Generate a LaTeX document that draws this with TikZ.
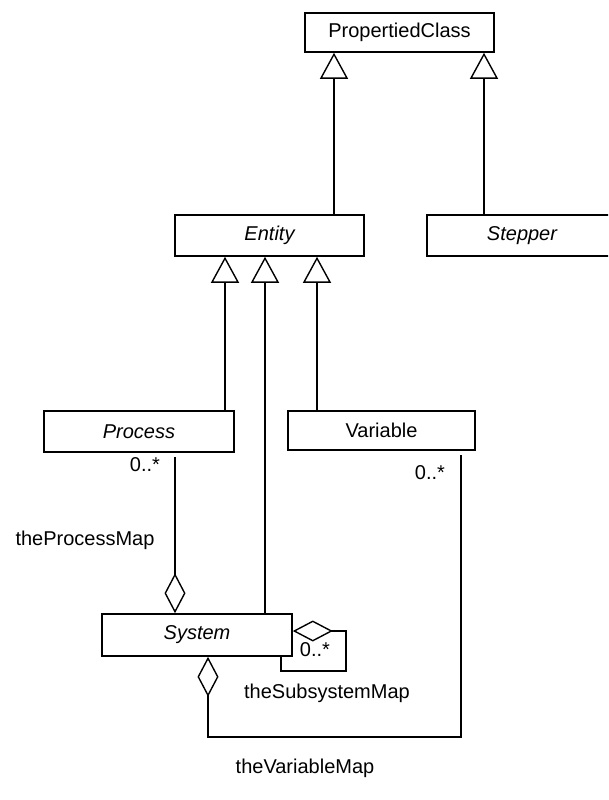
\documentclass[tikz,border=0pt]{standalone}
\usepackage{fontspec}
\setmainfont{Liberation Sans}
\usetikzlibrary{arrows.meta,calc}
\begin{document}
\begin{tikzpicture}[x=1pt,y=-1pt,
  cls/.style={draw, line width=1.6pt, minimum height=40pt, inner sep=0pt, font=\fontsize{20}{24}\selectfont},
  lbl/.style={inner sep=0pt, font=\fontsize{20}{24}\selectfont},
  gen/.style={line width=1.4pt, -{Triangle[open, length=26pt, width=28pt, line width=1.4pt]}},
  agg/.style={line width=1.4pt, -{Diamond[open, length=40pt, width=21pt, line width=1.4pt]}}]
\useasboundingbox (0,0) rectangle (608,800);
\clip (0,0) rectangle (608,800);
\node[cls, minimum width=189pt, minimum height=39pt] (pc) at (399.5,32.5) {PropertiedClass};
\node[cls, minimum width=189pt, minimum height=41pt] (entity) at (269.5,235.5) {\itshape Entity};
\node[cls, minimum width=190pt, minimum height=41pt] (stepper) at (522,235.5) {\itshape Stepper};
\node[cls, minimum width=190pt, minimum height=41pt] (process) at (139,431.5) {\itshape Process};
\node[cls, minimum width=187pt, minimum height=39pt] (variable) at (381.5,430.5) {Variable};
\node[cls, minimum width=190pt, minimum height=42pt] (system) at (197,635) {\itshape System};
\coordinate (xa) at (334,0);
\coordinate (xb) at (484,0);
\coordinate (xc) at (225,0);
\coordinate (xd) at (265,0);
\coordinate (xe) at (317,0);
\coordinate (xf) at (175,0);
\coordinate (loopa) at (346,671);
\coordinate (loopb) at (346,631);
\coordinate (loopc) at (281,671);
\coordinate (vmr) at (461,737);
\coordinate (vml) at (208,737);
\draw[gen] (entity.north -| xa) -- (pc.south -| xa);
\draw[gen] (stepper.north -| xb) -- (pc.south -| xb);
\draw[gen] (process.north -| xc) -- (entity.south -| xc);
\draw[gen] (system.north -| xd) -- (entity.south -| xd);
\draw[gen] (variable.north -| xe) -- (entity.south -| xe);
\draw[agg] ($(process.south -| xf)+(0,4)$) -- (system.north -| xf);
\draw[agg] (system.south -| loopc) -- (loopc) -- (loopa) -- (loopb) -- (system.east |- loopb);
\draw[agg] ($(variable.south -| vmr)+(0,4)$) -- (vmr) -- (vml) -- (system.south -| vml);
\node[lbl] (m1) at (145,465) {0..*};
\node[lbl] (m2) at (430,473) {0..*};
\node[lbl] (m3) at (315,650) {0..*};
\node[lbl] (n1) at (85,540) {theProcessMap};
\node[lbl] (n2) at (327,693) {theSubsystemMap};
\node[lbl] (n3) at (305,768) {theVariableMap};
\end{tikzpicture}
\end{document}
